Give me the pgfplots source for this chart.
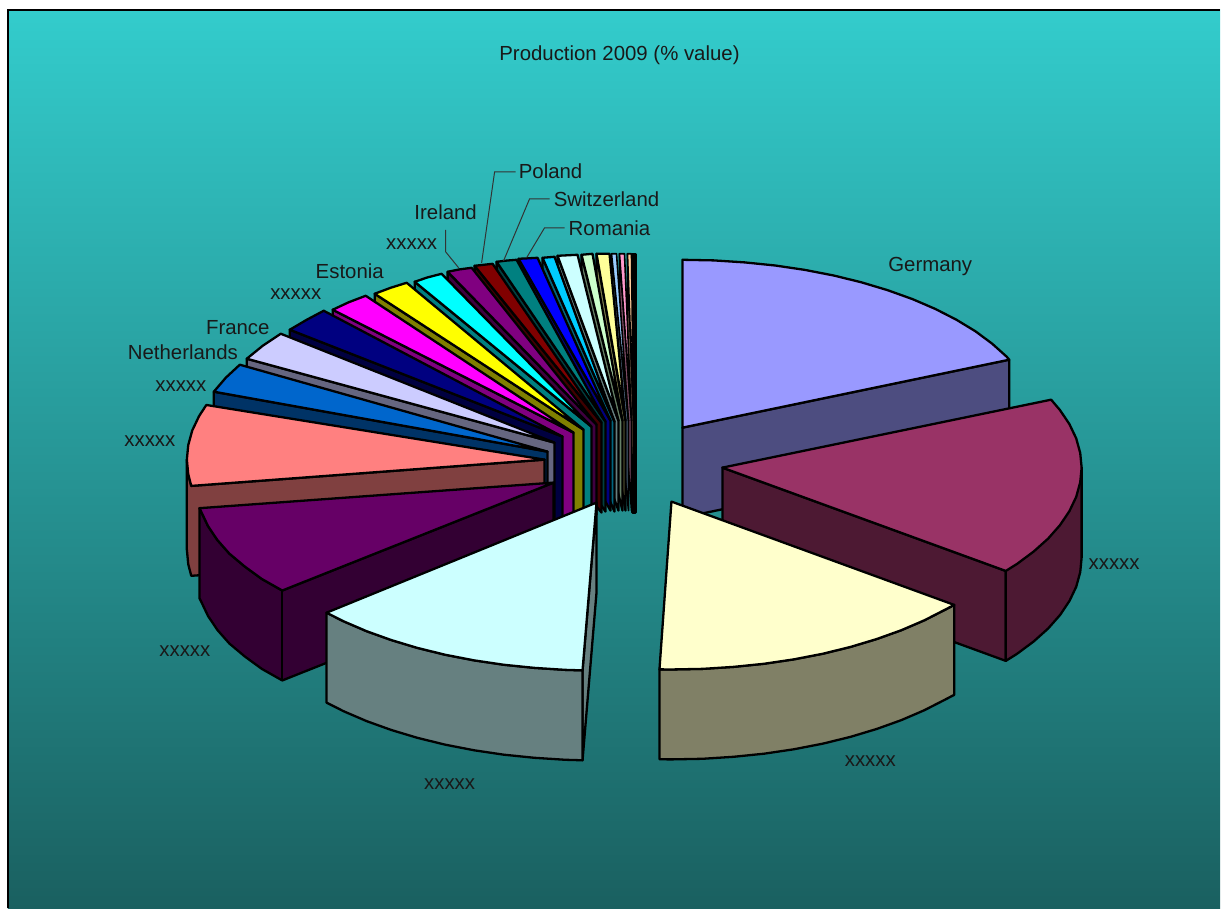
\documentclass[border=0pt]{standalone}
\usepackage{fontspec}
\setmainfont{Liberation Sans}
\usepackage{pgfplots}
\pgfplotsset{compat=1.18}

\definecolor{bgtop}{HTML}{33CCCC}
\definecolor{bgbot}{HTML}{1A6060}

\pgfplotsset{
  pie/.style={draw=black, line width=2.3pt, line join=round, forget plot, mark=none, solid},
  thin pie/.style={pie, line width=1.6pt},
  leader/.style={draw=black!80, line width=1pt, forget plot, mark=none},
}
\newcommand{\lbl}[2]{\node[font=\fontsize{20.4}{24}\selectfont, text=black!90, inner sep=0pt] at (axis cs:#1) {#2};}

\begin{document}
\begin{tikzpicture}
\begin{axis}[
  scale only axis, width=1221pt, height=910pt,
  xmin=0, xmax=1221, ymin=0, ymax=910,
  y dir=reverse, hide axis, clip=false,
]
% page and background
\addplot[forget plot, mark=none, draw=none, fill=white] coordinates {(0,0) (1221,0) (1221,910) (0,910)} --cycle;
\addplot[forget plot, mark=none, draw=none, top color=bgtop, bottom color=bgbot] coordinates {(8,10) (1221,10) (1221,909) (8,909)} --cycle;
\addplot[forget plot, mark=none, draw=black, line width=2pt] coordinates {(8,909) (8,10) (1221,10)};

% thin last slice, only its outline shows
\addplot[pie, fill=black] coordinates {(633,254) (636,254) (636,513) (633,513)} --cycle;

% small slices, back to front: wall then top
% peach
\addplot[thin pie, fill={rgb,255:red,128;green,102;blue,77}] coordinates {(628,254) (634,421) (634,511) (628,344)} --cycle;
\addplot[thin pie, fill={rgb,255:red,255;green,204;blue,153}] coordinates {(634,421) (628,254) (632,254)} --cycle;
% pink
\addplot[thin pie, fill={rgb,255:red,128;green,77;blue,102}] coordinates {(620,254) (632,421) (632,511) (620,344)} --cycle;
\addplot[thin pie, fill={rgb,255:red,255;green,153;blue,204}] coordinates {(632,421) (620,254) (625,254)} --cycle;
% light blue
\addplot[thin pie, fill={rgb,255:red,77;green,102;blue,128}] coordinates {(612,254) (629,421) (629,511) (612,344)} --cycle;
\addplot[thin pie, fill={rgb,255:red,153;green,204;blue,255}] coordinates {(629,421) (612,254) (617,254)} --cycle;
% light yellow
\addplot[pie, fill={rgb,255:red,128;green,128;blue,77}] coordinates {(597,254) (626,421) (626,511) (597,344)} --cycle;
\addplot[pie, fill={rgb,255:red,255;green,255;blue,153}] coordinates {(626,421) (597,254) (610,254)} --cycle;
% pale green
\addplot[pie, fill={rgb,255:red,102;green,128;blue,102}] coordinates {(582,255) (623,421) (623,511) (582,345)} --cycle;
\addplot[pie, fill={rgb,255:red,204;green,255;blue,204}] coordinates {(623,421) (582,255) (593,254)} --cycle;
% pale cyan
\addplot[pie, fill={rgb,255:red,102;green,128;blue,128}] coordinates {(558,256) (619,421) (619,511) (558,346)} --cycle;
\addplot[pie, fill={rgb,255:red,204;green,255;blue,255}] coordinates {(619,421) (558,256) (578,255)} --cycle;
% sky
\addplot[pie, fill={rgb,255:red,0;green,102;blue,128}] coordinates {(543,258) (615,422) (615,512) (543,348)} --cycle;
\addplot[pie, fill={rgb,255:red,0;green,204;blue,255}] coordinates {(615,422) (543,258) (555,257)} --cycle;
% blue
\addplot[pie, fill={rgb,255:red,0;green,0;blue,128}] coordinates {(519,259) (611,421) (611,511) (519,349)} --cycle;
\addplot[pie, fill={rgb,255:red,0;green,0;blue,255}] coordinates {(611,421) (519,259) (538,258)} --cycle;
% teal
\addplot[pie, fill={rgb,255:red,0;green,64;blue,64}] coordinates {(497,262) (606,422) (606,512) (497,352)} --cycle;
\addplot[pie, fill={rgb,255:red,0;green,128;blue,128}] coordinates {(606,422) (497,262) (507,260.8) (517,260)} --cycle;
% dark red
\addplot[pie, fill={rgb,255:red,64;green,0;blue,0}] coordinates {(475,266) (602,423) (602,513) (475,356)} --cycle;
\addplot[pie, fill={rgb,255:red,128;green,0;blue,0}] coordinates {(602,423) (475,266) (493,264)} --cycle;
% purple
\addplot[pie, fill={rgb,255:red,64;green,0;blue,64}] coordinates {(448,272) (597,425) (597,515) (448,362)} --cycle;
\addplot[pie, fill={rgb,255:red,128;green,0;blue,128}] coordinates {(597,425) (448,272) (460,269.6) (472,268)} --cycle;
% cyan
\addplot[pie, fill={rgb,255:red,0;green,128;blue,128}] coordinates {(415,282) (592,427) (592,517) (415,372)} --cycle;
\addplot[pie, fill={rgb,255:red,0;green,255;blue,255}] coordinates {(592,427) (415,282) (428,277.6) (442,274)} --cycle;
% yellow
\addplot[pie, fill={rgb,255:red,128;green,128;blue,0}] coordinates {(375,294) (584,430) (584,520) (375,384)} --cycle;
\addplot[pie, fill={rgb,255:red,255;green,255;blue,0}] coordinates {(584,430) (375,294) (391,288) (407,283)} --cycle;
% magenta
\addplot[pie, fill={rgb,255:red,128;green,0;blue,128}] coordinates {(333,310) (574,433) (574,523) (333,400)} --cycle;
\addplot[pie, fill={rgb,255:red,255;green,0;blue,255}] coordinates {(574,433) (333,310) (349,302.5) (366,296)} --cycle;
% navy
\addplot[pie, fill={rgb,255:red,0;green,0;blue,64}] coordinates {(290,330) (563,437) (563,527) (290,420)} --cycle;
\addplot[pie, fill={rgb,255:red,0;green,0;blue,128}] coordinates {(563,437) (290,330) (307,320) (324,311)} --cycle;
% lavender
\addplot[pie, fill={rgb,255:red,102;green,102;blue,128}] coordinates {(247,359) (555,443) (555,533) (247,449)} --cycle;
\addplot[pie, fill={rgb,255:red,204;green,204;blue,255}] coordinates {(555,443) (247,359) (263,346) (281,334)} --cycle;
% mid blue
\addplot[pie, fill={rgb,255:red,0;green,51;blue,102}] coordinates {(214,392) (548,452) (548,542) (214,482)} --cycle;
\addplot[pie, fill={rgb,255:red,0;green,102;blue,204}] coordinates {(548,452) (214,392) (226,378) (240,365)} --cycle;

% salmon
\addplot[pie, fill={rgb,255:red,128;green,64;blue,64}] coordinates {(187,460) (187,550) (188.4,564.6) (191.4,576.3) (545,550) (545,460) (191.4,486.3) (188.4,474.6)} --cycle;
\addplot[pie, fill={rgb,255:red,255;green,128;blue,128}] coordinates {(545,460) (191.4,486.3) (188.4,474.6) (187,460) (188.4,445.4) (192.4,430.8) (199.2,416.5) (206.5,405.3)} --cycle;

% dark violet
\addplot[pie, fill={rgb,255:red,51;green,0;blue,51}] coordinates {(554,483) (282.5,591) (262,579.4) (245,567) (229.5,554) (217.6,540.5) (208.2,526.5) (201.4,512.2) (199.6,508.6) (199.6,598.6) (201.4,602.2) (208.2,616.5) (217.6,630.5) (229.5,644) (245,657) (262,669.4) (282.5,681) (554,573)} --cycle;
\addplot[pie] coordinates {(282.5,591) (282.5,681)};
\addplot[pie, fill={rgb,255:red,102;green,0;blue,102}] coordinates {(554,483) (282.5,591) (262,579.4) (245,567) (229.5,554) (217.6,540.5) (208.2,526.5) (201.4,512.2) (199.6,508.6)} --cycle;

% Germany
\addplot[pie, fill={rgb,255:red,77;green,77;blue,128}] coordinates {(683,428) (1010,360) (1010,450) (683,518)} --cycle;
\addplot[pie, fill={rgb,255:red,153;green,153;blue,255}] coordinates {(683,428) (683,260) (714.2,260.6) (745.2,262.6) (775.7,265.7) (805.4,270.1) (834.3,275.7) (862,282.5) (888.3,290.4) (913.1,299.3) (936.1,309.2) (957.2,320) (976.3,331.6) (993,344) (1007.5,357) (1010,360)} --cycle;

% maroon
\addplot[pie, fill={rgb,255:red,77;green,25;blue,51}] coordinates {(723,468) (1006.6,571.4) (1006.6,661.4) (723,558)} --cycle;
\addplot[pie, fill={rgb,255:red,77;green,25;blue,51}] coordinates {(1082.5,468) (1082.5,558) (1081.1,572.6) (1077.1,587.2) (1070.3,601.5) (1060.9,615.5) (1049,629) (1034.5,642) (1017.8,654.4) (1006.6,661.4) (1006.6,571.4)} --cycle;
\addplot[pie, fill={rgb,255:red,153;green,51;blue,102}] coordinates {(723,468) (1052,400) (1060.9,410.5) (1070.3,424.5) (1077.1,438.8) (1081.1,453.4) (1082.5,468) (1081.1,482.6) (1077.1,497.2) (1070.3,511.5) (1060.9,525.5) (1049,539) (1034.5,552) (1017.8,564.4) (1006.6,571.4)} --cycle;

% light yellow
\addplot[pie, fill={rgb,255:red,128;green,128;blue,102}] coordinates {(955,605.4) (955,695.4) (946.2,700) (925.1,710.8) (902.1,720.7) (877.3,729.6) (851,737.5) (823.3,744.3) (794.4,749.9) (764.7,754.3) (734.2,757.4) (703.2,759.4) (672,760) (660,759.9) (660,669.9) (672,670) (703.2,669.4) (734.2,667.4) (764.7,664.3) (794.4,659.9) (823.3,654.3) (851,647.5) (877.3,639.6) (902.1,630.7) (925.1,620.8) (946.2,610)} --cycle;
\addplot[pie, fill={rgb,255:red,255;green,255;blue,204}] coordinates {(672,502) (955,605.4) (946.2,610) (925.1,620.8) (902.1,630.7) (877.3,639.6) (851,647.5) (823.3,654.3) (794.4,659.9) (764.7,664.3) (734.2,667.4) (703.2,669.4) (672,670) (660,669.9)} --cycle;

% pale cyan
\addplot[pie, fill={rgb,255:red,102;green,128;blue,128}] coordinates {(597,503) (597,593) (583,760.9) (583,670.9)} --cycle;
\addplot[pie, fill={rgb,255:red,102;green,128;blue,128}] coordinates {(583,670.9) (583,760.9) (565.8,760.4) (534.8,758.4) (504.3,755.3) (474.6,750.9) (445.7,745.3) (418,738.5) (391.7,730.6) (366.9,721.7) (343.9,711.8) (326.8,703.2) (326.8,613.2) (343.9,621.8) (366.9,631.7) (391.7,640.6) (418,648.5) (445.7,655.3) (474.6,660.9) (504.3,665.3) (534.8,668.4) (565.8,670.4)} --cycle;
\addplot[pie, fill={rgb,255:red,204;green,255;blue,255}] coordinates {(597,503) (583,670.9) (565.8,670.4) (534.8,668.4) (504.3,665.3) (474.6,660.9) (445.7,655.3) (418,648.5) (391.7,640.6) (366.9,631.7) (343.9,621.8) (326.8,613.2)} --cycle;

% leader lines
\addplot[leader] coordinates {(516,172) (495,172) (482,263)};
\addplot[leader] coordinates {(550,199) (530,199) (504,261)};
\addplot[leader] coordinates {(565,228) (545,228) (527,258)};
\addplot[leader] coordinates {(446,230) (446,252) (459,268)};

% labels
\lbl{620,55}{Production 2009 (\% value)}
\lbl{931,267}{Germany}
\lbl{1115,565}{xxxxx}
\lbl{871,762}{xxxxx}
\lbl{450,785}{xxxxx}
\lbl{185,652}{xxxxx}
\lbl{150,441}{xxxxx}
\lbl{181,386}{xxxxx}
\lbl{183,352}{Netherlands}
\lbl{238,328}{France}
\lbl{296,294}{xxxxx}
\lbl{350,271}{Estonia}
\lbl{412,244}{xxxxx}
\lbl{446,212}{Ireland}
\lbl{551,171}{Poland}
\lbl{607,199}{Switzerland}
\lbl{610,228}{Romania}
\end{axis}
\end{tikzpicture}
\end{document}
